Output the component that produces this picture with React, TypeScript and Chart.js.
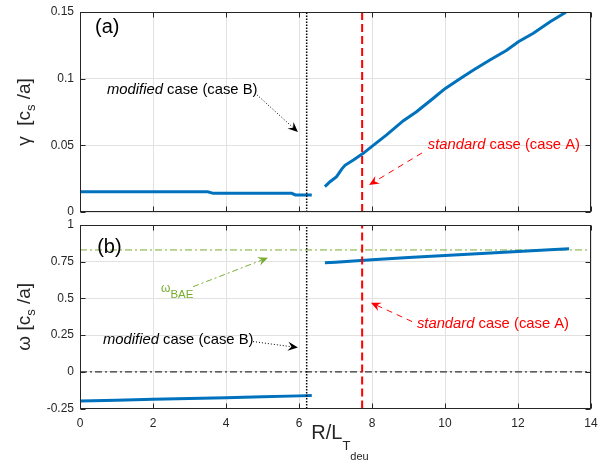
import React, { useEffect, useRef } from 'react';
import { Chart, registerables } from 'chart.js';

Chart.register(...registerables);

// ---------------- data ----------------
const xTicks = [0, 2, 4, 6, 8, 10, 12, 14];
const gammaTicks = [0, 0.05, 0.1, 0.15];
const omegaTicks = [-0.25, 0, 0.25, 0.5, 0.75, 1];

// growth rate, low branch
const gammaLowX = [0, 1, 2, 3, 3.5, 3.65, 4.5, 5.5, 5.8, 5.9, 6.35];
const gammaLow = [0.0152, 0.0152, 0.0152, 0.0152, 0.0152, 0.014, 0.014, 0.014, 0.014, 0.0128, 0.0128];

// growth rate, high branch
const gammaHighX = [6.71, 6.85, 7.03, 7.17, 7.26, 7.49, 7.76, 7.99, 8.4, 8.86, 9.22, 9.68, 10.0, 10.41, 10.78, 11.23, 11.69, 12.01, 12.42, 12.88, 13.31];
const gammaHigh = [0.019, 0.0227, 0.0265, 0.0322, 0.035, 0.039, 0.044, 0.049, 0.0578, 0.0685, 0.0752, 0.0853, 0.0925, 0.1, 0.1065, 0.114, 0.1213, 0.1277, 0.134, 0.1427, 0.1498];

// real frequency, low branch
const omegaLowX = [0, 1, 2, 3, 4, 5, 6, 6.35];
const omegaLow = [-0.199, -0.193, -0.187, -0.182, -0.176, -0.17, -0.164, -0.162];

// real frequency, high branch
const omegaHighX = [6.71, 7, 7.5, 8, 9, 10, 11, 12, 13, 13.4];
const omegaHigh = [0.743, 0.747, 0.754, 0.763, 0.778, 0.792, 0.806, 0.82, 0.833, 0.838];

const caseB_R = 6.21; // modified case (case B)
const caseA_R = 7.73; // standard case (case A)
const omegaBAE = 0.83;
const omegaZero = 0;

// ---------------- styles ----------------
const FONT = '"Liberation Sans", Arial, Helvetica, sans-serif';
const AXIS_COLOR = '#262626';
const GRID_COLOR = '#e2e2e2';
const BLUE = '#0072BD';
const RED = '#FF0000';
const GREEN = '#77AC30';

type Seg = { t: string; size: number; dy?: number; italic?: boolean };
interface TextNote { x: number; y: number; segs: Seg[]; color: string }
interface ArrowNote { from: [number, number]; to: [number, number]; color: string; dash: number[]; width: number }
interface PanelSpec {
  notes: TextNote[];
  arrows: ArrowNote[];
  yLabel: Seg[];
  xLabel?: Seg[];
  yTicks: number[];
}

function fontOf(s: Seg) {
  return `${s.italic ? 'italic ' : ''}${s.size}px ${FONT}`;
}

function drawRich(ctx: CanvasRenderingContext2D, segs: Seg[], x: number, y: number, align: 'left' | 'center', color: string) {
  let total = 0;
  const widths = segs.map((s) => {
    ctx.font = fontOf(s);
    const w = ctx.measureText(s.t).width;
    total += w;
    return w;
  });
  let cx = align === 'center' ? x - total / 2 : x;
  ctx.fillStyle = color;
  ctx.textAlign = 'left';
  ctx.textBaseline = 'alphabetic';
  segs.forEach((s, i) => {
    ctx.font = fontOf(s);
    ctx.fillText(s.t, cx, y + (s.dy || 0));
    cx += widths[i];
  });
}

function drawArrow(ctx: CanvasRenderingContext2D, x1: number, y1: number, x2: number, y2: number, a: ArrowNote) {
  const ang = Math.atan2(y2 - y1, x2 - x1);
  const L = 10;
  const W = 9;
  const c = Math.cos(ang);
  const s = Math.sin(ang);
  const nx = x2 - c * L * 0.65;
  const ny = y2 - s * L * 0.65;
  ctx.save();
  ctx.strokeStyle = a.color;
  ctx.lineWidth = a.width;
  ctx.setLineDash(a.dash);
  ctx.beginPath();
  ctx.moveTo(x1, y1);
  ctx.lineTo(nx, ny);
  ctx.stroke();
  ctx.setLineDash([]);
  ctx.fillStyle = a.color;
  const bx = x2 - c * L;
  const by = y2 - s * L;
  const px = -s * W / 2;
  const py = c * W / 2;
  ctx.beginPath();
  ctx.moveTo(x2, y2);
  ctx.lineTo(bx + px, by + py);
  ctx.lineTo(nx, ny);
  ctx.lineTo(bx - px, by - py);
  ctx.closePath();
  ctx.fill();
  ctx.restore();
}

function panelPlugin(spec: PanelSpec) {
  return {
    id: 'panelDecor',
    afterDatasetsDraw(chart: any) {
      const ctx: CanvasRenderingContext2D = chart.ctx;
      const ca = chart.chartArea;
      const xs = chart.scales.x;
      const ys = chart.scales.y;
      const L = Math.round(ca.left) + 0.5;
      const R = Math.round(ca.right) - 0.5;
      const T = Math.round(ca.top) + 0.5;
      const B = Math.round(ca.bottom) - 0.5;
      ctx.save();
      ctx.strokeStyle = AXIS_COLOR;
      ctx.lineWidth = 1;
      ctx.setLineDash([]);
      ctx.strokeRect(L, T, R - L, B - T);
      const tl = 5;
      ctx.beginPath();
      xTicks.forEach((v) => {
        const p = Math.round(xs.getPixelForValue(v)) + 0.5;
        ctx.moveTo(p, B);
        ctx.lineTo(p, B - tl);
        ctx.moveTo(p, T);
        ctx.lineTo(p, T + tl);
      });
      spec.yTicks.forEach((v) => {
        const p = Math.round(ys.getPixelForValue(v)) + 0.5;
        ctx.moveTo(L, p);
        ctx.lineTo(L + tl, p);
        ctx.moveTo(R, p);
        ctx.lineTo(R - tl, p);
      });
      ctx.stroke();
      spec.arrows.forEach((a) => {
        drawArrow(
          ctx,
          xs.getPixelForValue(a.from[0]),
          ys.getPixelForValue(a.from[1]),
          xs.getPixelForValue(a.to[0]),
          ys.getPixelForValue(a.to[1]),
          a
        );
      });
      spec.notes.forEach((n) => {
        drawRich(ctx, n.segs, xs.getPixelForValue(n.x), ys.getPixelForValue(n.y), 'left', n.color);
      });
      ctx.save();
      ctx.translate(29.5, (ca.top + ca.bottom) / 2);
      ctx.rotate(-Math.PI / 2);
      drawRich(ctx, spec.yLabel, 0, 0, 'center', AXIS_COLOR);
      ctx.restore();
      if (spec.xLabel) {
        drawRich(ctx, spec.xLabel, (ca.left + ca.right) / 2 + 4.5, ca.bottom + 30, 'center', AXIS_COLOR);
      }
      ctx.restore();
    },
  };
}

function lineDs(xs: number[], ys: number[], color: string, width: number, dash: number[] = []) {
  return {
    data: xs.map((x, i) => ({ x, y: ys[i] })),
    borderColor: color,
    backgroundColor: color,
    borderWidth: width,
    borderDash: dash,
    pointRadius: 0,
    pointHoverRadius: 0,
    fill: false,
    tension: 0,
    spanGaps: false,
  };
}

function makeConfig(opts: {
  datasets: any[];
  yMin: number;
  yMax: number;
  yTicks: number[];
  showXLabels: boolean;
  padTop: number;
  xHeight: number;
  spec: PanelSpec;
}): any {
  return {
    type: 'line',
    data: { datasets: opts.datasets },
    options: {
      animation: false,
      responsive: false,
      devicePixelRatio: 1,
      events: [],
      layout: { padding: { left: 0, right: 8, top: opts.padTop, bottom: 0 } },
      plugins: { legend: { display: false }, tooltip: { enabled: false } },
      scales: {
        x: {
          type: 'linear',
          min: 0,
          max: 14,
          afterBuildTicks: (s: any) => {
            s.ticks = xTicks.map((v) => ({ value: v }));
          },
          afterFit: (s: any) => {
            s.height = opts.xHeight;
            s.paddingLeft = 0;
            s.paddingRight = 0;
          },
          grid: { color: GRID_COLOR, drawTicks: false, lineWidth: 1 },
          border: { display: false },
          ticks: {
            display: opts.showXLabels,
            padding: 8,
            color: AXIS_COLOR,
            font: { family: FONT, size: 12 },
            maxRotation: 0,
            callback: (v: number) => String(v),
          },
        },
        y: {
          type: 'linear',
          min: opts.yMin,
          max: opts.yMax,
          afterBuildTicks: (s: any) => {
            s.ticks = opts.yTicks.map((v) => ({ value: v }));
          },
          afterFit: (s: any) => {
            s.width = 80;
            s.paddingTop = 0;
            s.paddingBottom = 0;
          },
          grid: { color: GRID_COLOR, drawTicks: false, lineWidth: 1 },
          border: { display: false },
          ticks: {
            padding: 6,
            color: AXIS_COLOR,
            font: { family: FONT, size: 12 },
            callback: (v: number) => String(Math.round(v * 1000) / 1000),
          },
        },
      },
    },
    plugins: [panelPlugin(opts.spec)],
  };
}

const NOTE_SIZE = 14.8;

const specA: PanelSpec = {
  yTicks: gammaTicks,
  yLabel: [
    { t: 'γ  ', size: 19 },
    { t: '[c', size: 19 },
    { t: 's', size: 13, dy: 5 },
    { t: ' /a]', size: 19 },
  ],
  notes: [
    { x: 0.41, y: 0.1343, segs: [{ t: '(a)', size: 20 }], color: '#000' },
    {
      x: 0.74,
      y: 0.0885,
      segs: [
        { t: 'modified', size: NOTE_SIZE, italic: true },
        { t: ' case (case B)', size: NOTE_SIZE },
      ],
      color: '#000',
    },
    {
      x: 9.53,
      y: 0.0473,
      segs: [
        { t: 'standard', size: NOTE_SIZE, italic: true },
        { t: ' case (case A)', size: NOTE_SIZE },
      ],
      color: RED,
    },
  ],
  arrows: [
    { from: [4.85, 0.0878], to: [5.97, 0.06], color: '#000', dash: [1, 2], width: 1 },
    { from: [9.37, 0.0443], to: [7.92, 0.0203], color: RED, dash: [6, 5], width: 1 },
  ],
};

const specB: PanelSpec = {
  yTicks: omegaTicks,
  yLabel: [
    { t: 'ω ', size: 19 },
    { t: '[c', size: 19 },
    { t: 's', size: 13, dy: 5 },
    { t: ' /a]', size: 19 },
  ],
  xLabel: [
    { t: 'R/L', size: 20 },
    { t: 'T', size: 13, dy: 11 },
    { t: 'deu', size: 11, dy: 21 },
  ],
  notes: [
    { x: 0.47, y: 0.811, segs: [{ t: '(b)', size: 20 }], color: '#000' },
    {
      x: 2.22,
      y: 0.546,
      segs: [
        { t: 'ω', size: 12 },
        { t: 'BAE', size: 11.5, dy: 6 },
      ],
      color: GREEN,
    },
    {
      x: 0.63,
      y: 0.186,
      segs: [
        { t: 'modified', size: NOTE_SIZE, italic: true },
        { t: ' case (case B)', size: NOTE_SIZE },
      ],
      color: '#000',
    },
    {
      x: 9.23,
      y: 0.301,
      segs: [
        { t: 'standard', size: NOTE_SIZE, italic: true },
        { t: ' case (case A)', size: NOTE_SIZE },
      ],
      color: RED,
    },
  ],
  arrows: [
    { from: [3.1, 0.58], to: [5.15, 0.777], color: GREEN, dash: [6, 3, 2, 3], width: 1 },
    { from: [4.74, 0.206], to: [5.97, 0.165], color: '#000', dash: [1, 2], width: 1 },
    { from: [9.1, 0.342], to: [7.97, 0.471], color: RED, dash: [6, 5], width: 1 },
  ],
};

export default function App() {
  const refA = useRef<HTMLCanvasElement | null>(null);
  const refB = useRef<HTMLCanvasElement | null>(null);

  useEffect(() => {
    if (!refA.current || !refB.current) return;
    const gMin = gammaTicks[0];
    const gMax = gammaTicks[gammaTicks.length - 1];
    const oMin = omegaTicks[0];
    const oMax = omegaTicks[omegaTicks.length - 1];

    const chartA = new Chart(
      refA.current,
      makeConfig({
        datasets: [
          lineDs([caseB_R, caseB_R], [gMin, gMax], '#000', 1.5, [1.5, 1.5]),
          lineDs([caseA_R, caseA_R], [gMin, gMax], RED, 2, [8, 4]),
          lineDs(gammaLowX, gammaLow, BLUE, 3),
          lineDs(gammaHighX, gammaHigh, BLUE, 3),
        ],
        yMin: gMin,
        yMax: gMax,
        yTicks: gammaTicks,
        showXLabels: false,
        padTop: 12,
        xHeight: 28,
        spec: specA,
      })
    );

    const chartB = new Chart(
      refB.current,
      makeConfig({
        datasets: [
          lineDs([caseB_R, caseB_R], [oMin, oMax], '#000', 1.5, [1.5, 1.5]),
          lineDs([caseA_R, caseA_R], [oMin, oMax], RED, 2, [8, 4]),
          lineDs(omegaLowX, omegaLow, BLUE, 3),
          lineDs(omegaHighX, omegaHigh, BLUE, 3),
          lineDs([0, 14], [omegaBAE, omegaBAE], GREEN, 1, [7, 3, 2, 3]),
          lineDs([0, 14], [omegaZero, omegaZero], '#333', 1.2, [7, 3, 2, 3]),
        ],
        yMin: oMin,
        yMax: oMax,
        yTicks: omegaTicks,
        showXLabels: true,
        padTop: 25,
        xHeight: 51.5,
        spec: specB,
      })
    );

    return () => {
      chartA.destroy();
      chartB.destroy();
    };
  }, []);

  return (
    <div style={{ position: 'absolute', left: 0, top: 0, width: 599, height: 460, background: '#fff' }}>
      <canvas ref={refA} width={599} height={240} style={{ position: 'absolute', left: 0, top: 0 }} />
      <canvas ref={refB} width={599} height={260} style={{ position: 'absolute', left: 0, top: 200 }} />
    </div>
  );
}
